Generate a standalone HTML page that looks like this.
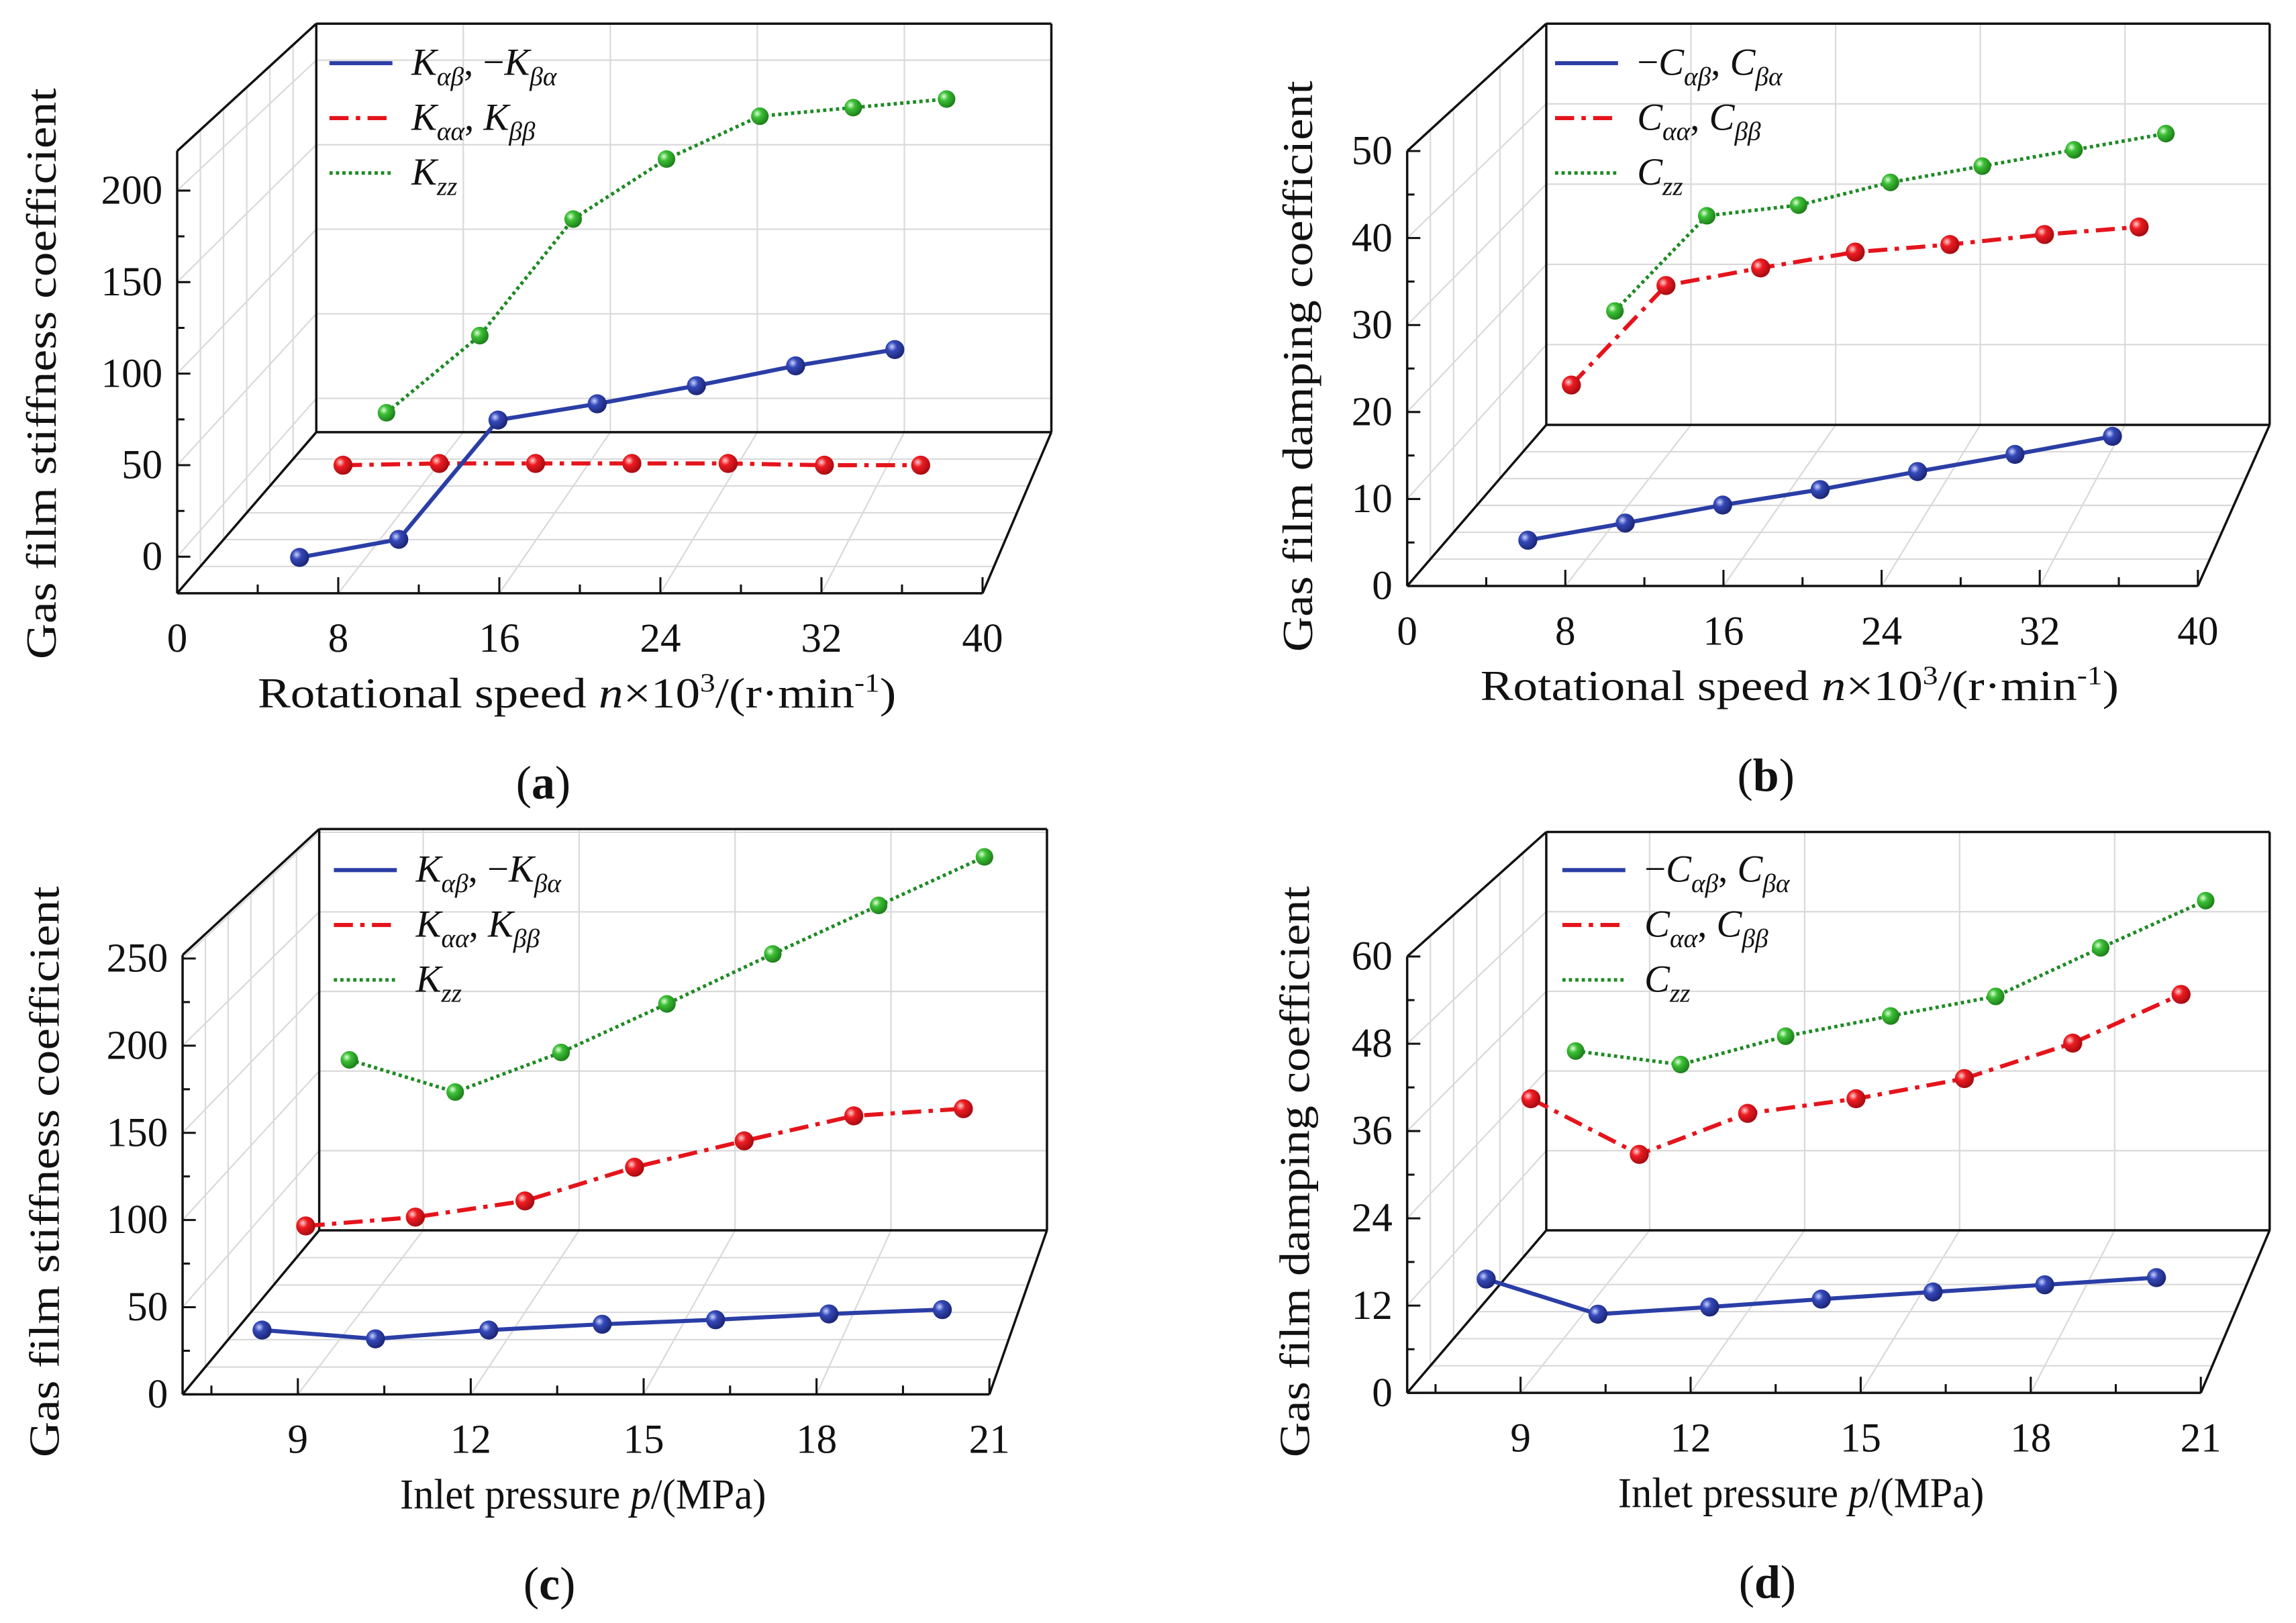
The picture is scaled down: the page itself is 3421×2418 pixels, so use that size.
<!DOCTYPE html>
<html><head><meta charset="utf-8"><style>
html,body{margin:0;padding:0;background:#fff;}
svg{display:block;}
text{font-family:"Liberation Serif","DejaVu Serif",serif;fill:#111;}
</style></head><body>
<svg id="fig" xmlns="http://www.w3.org/2000/svg" width="3421" height="2418" viewBox="0 0 1568 1108">
<defs>
<radialGradient id="gBlue" cx="0.35" cy="0.35" r="0.7"><stop offset="0" stop-color="#c9d2ff"/><stop offset="0.35" stop-color="#3448b8"/><stop offset="1" stop-color="#1a2370"/></radialGradient>
<radialGradient id="gRed" cx="0.35" cy="0.35" r="0.7"><stop offset="0" stop-color="#ffd0d0"/><stop offset="0.35" stop-color="#ee1c22"/><stop offset="1" stop-color="#a00a10"/></radialGradient>
<radialGradient id="gGreen" cx="0.35" cy="0.35" r="0.7"><stop offset="0" stop-color="#e0ffd8"/><stop offset="0.35" stop-color="#3cc036"/><stop offset="1" stop-color="#1b7a18"/></radialGradient>
</defs>
</svg>
<script>
// ---- data ----
const aX = [5, 10, 15, 20, 25, 30, 35];
const aBlue = [-15, -5, 61, 70, 80, 91, 100];
const aRed = [7, 8, 8, 8, 8, 7, 7];
const aGreen = [7, 52, 120, 155, 180, 185, 190];
const aYTicks = [0, 50, 100, 150, 200];
const aXTicks = [0, 8, 16, 24, 32, 40];

const bX = [5, 10, 15, 20, 25, 30, 35];
const bBlue = [2.2, 4.2, 6.3, 8.1, 10.2, 12.2, 14.3];
const bRed = [14.4, 26.3, 28.4, 30.3, 31.2, 32.4, 33.3];
const bGreen = [17.3, 29, 30.3, 33.1, 35.1, 37.1, 39.1];
const bYTicks = [0, 10, 20, 30, 40, 50];
const bXTicks = [0, 8, 16, 24, 32, 40];

const cX = [8, 10, 12, 14, 16, 18, 20];
const cBlue = [21.5, 16.4, 21.5, 24.9, 27.5, 30.9, 33.4];
const cRed = [51.8, 57.1, 66.8, 87, 102.8, 117.8, 122.1];
const cGreen = [122.3, 102.4, 126.9, 156.9, 187.8, 217.8, 247.8];
const cYTicks = [0, 50, 100, 150, 200, 250];
const cXTicks = [9, 12, 15, 18, 21];

const dX = [8, 10, 12, 14, 16, 18, 20];
const dBlue = [12.1, 7.2, 8.2, 9.3, 10.3, 11.3, 12.3];
const dRed = [30.6, 22.6, 28.5, 30.6, 33.5, 38.6, 45.6];
const dGreen = [30.6, 28.6, 32.8, 35.8, 38.7, 45.9, 52.9];
const dYTicks = [0, 12, 24, 36, 48, 60];
const dXTicks = [9, 12, 15, 18, 21];

const NS = "http://www.w3.org/2000/svg";
const svg = document.getElementById('fig');
function mk(tag, parent) { const e = document.createElementNS(NS, tag); parent.appendChild(e); return e; }
function line(parent, p, q, stroke, w) {
  const l = mk('line', parent);
  l.setAttribute('x1', p[0]); l.setAttribute('y1', p[1]); l.setAttribute('x2', q[0]); l.setAttribute('y2', q[1]);
  l.setAttribute('stroke', stroke); l.setAttribute('stroke-width', w);
  return l;
}
function txt(parent, x, y, s, size, anchor) {
  const t = mk('text', parent);
  t.setAttribute('x', x); t.setAttribute('y', y); t.setAttribute('font-size', size);
  t.setAttribute('text-anchor', anchor || 'middle'); t.textContent = s; return t;
}
function tsp(t, s, opts) {
  const e = mk('tspan', t); e.textContent = s;
  if (opts) for (const k in opts) e.setAttribute(k, opts[k]);
  return e;
}

const panels = [
  {id:'a', fx0:121, fw:550, fyb:405, fh:302, bx0:216, bw:502, byb:295, bh:279, xmin:0, xmax:40, ymin:-20, ymax:221.6,
   xs:aX, blue:aBlue, red:aRed, green:aGreen, yt:aYTicks, xt:aXTicks, yMinor:25, xMinor:4,
   ytitle:'Gas film stiffness coefficient', ytx:38, ytc:255, letter:'a', lx:225, ly:43, kind:'K', xkind:'n'},
  {id:'b', fx0:961, fw:540, fyb:400, fh:297, bx0:1056, bw:494, byb:290, bh:274, xmin:0, xmax:40, ymin:0, ymax:50,
   xs:bX, blue:bBlue, red:bRed, green:bGreen, yt:bYTicks, xt:bXTicks, yMinor:5, xMinor:4,
   ytitle:'Gas film damping coefficient', ytx:896, ytc:250, letter:'b', lx:1062, ly:43, kind:'C', xkind:'n'},
  {id:'c', fx0:124.7, fw:551, fyb:952, fh:300, bx0:218, bw:497, byb:840, bh:274, xmin:7, xmax:21, ymin:0, ymax:252,
   xs:cX, blue:cBlue, red:cRed, green:cGreen, yt:cYTicks, xt:cXTicks, yMinor:25, xMinor:1.5,
   ytitle:'Gas film stiffness coefficient', ytx:40, ytc:800, letter:'c', lx:228, ly:594, kind:'K', xkind:'p'},
  {id:'d', fx0:961, fw:542, fyb:951, fh:298, bx0:1056, bw:494, byb:840, bh:272, xmin:7, xmax:21, ymin:0, ymax:60,
   xs:dX, blue:dBlue, red:dRed, green:dGreen, yt:dYTicks, xt:dXTicks, yMinor:6, xMinor:1.5,
   ytitle:'Gas film damping coefficient', ytx:894, ytc:800, letter:'d', lx:1067, ly:594, kind:'C', xkind:'p'}
];

function P(pn, xv, yv, t) {
  const u = (xv - pn.xmin) / (pn.xmax - pn.xmin);
  const v = (yv - pn.ymin) / (pn.ymax - pn.ymin);
  const fx = pn.fx0 + u * pn.fw, fy = pn.fyb - v * pn.fh;
  const bx = pn.bx0 + u * pn.bw, by = pn.byb - v * pn.bh;
  return [fx + (bx - fx) * t, fy + (by - fy) * t];
}

const depths = {blue: 1/6, red: 1/2, green: 5/6};
const colors = {blue:'#2b3ea6', red:'#e5141c', green:'#1f8a25'};
const grads = {blue:'url(#gBlue)', red:'url(#gRed)', green:'url(#gGreen)'};
const dashes = {blue:'', red:'13,5,3,5', green:'2.2,2.2'};

panels.forEach(pn => {
  const g = mk('g', svg);
  
  

  const grid = mk('g', g);
  
  
  const gc = '#d9d9d9';
  pn.yt.forEach(v => {
    line(grid, P(pn, pn.xmin, v, 1), P(pn, pn.xmax, v, 1), gc, 1);
    line(grid, P(pn, pn.xmin, v, 0), P(pn, pn.xmin, v, 1), gc, 1);
  });
  pn.xt.forEach(x => {
    line(grid, P(pn, x, pn.ymin, 1), P(pn, x, pn.ymax, 1), gc, 1);
    line(grid, P(pn, x, pn.ymin, 0), P(pn, x, pn.ymin, 1), gc, 1);
  });
  for (let k = 1; k < 6; k++) {
    const t = k / 6;
    line(grid, P(pn, pn.xmin, pn.ymin, t), P(pn, pn.xmax, pn.ymin, t), gc, 1);
    line(grid, P(pn, pn.xmin, pn.ymin, t), P(pn, pn.xmin, pn.ymax, t), gc, 1);
  }

  const fr = mk('g', g);
  
  
  const k = '#111', w = 1.6;
  const F00 = P(pn, pn.xmin, pn.ymin, 0), F10 = P(pn, pn.xmax, pn.ymin, 0), F01 = P(pn, pn.xmin, pn.ymax, 0);
  const B00 = P(pn, pn.xmin, pn.ymin, 1), B10 = P(pn, pn.xmax, pn.ymin, 1), B01 = P(pn, pn.xmin, pn.ymax, 1), B11 = P(pn, pn.xmax, pn.ymax, 1);
  line(fr, F00, F10, k, w); line(fr, F00, F01, k, w); line(fr, F10, B10, k, w); line(fr, F00, B00, k, w);
  line(fr, F01, B01, k, w); line(fr, B00, B10, k, w); line(fr, B10, B11, k, w); line(fr, B11, B01, k, w); line(fr, B01, B00, k, w);

  const ya = mk('g', g);
  
  
  for (let v = pn.yt[0] - pn.yMinor * Math.floor((pn.yt[0] - pn.ymin) / pn.yMinor); v <= pn.ymax + 0.001; v += pn.yMinor) {
    const p = P(pn, pn.xmin, v, 0);
    const major = pn.yt.some(m => Math.abs(m - v) < 1e-6);
    line(ya, p, [p[0] + (major ? 9 : 5), p[1]], k, 1.4);
  }
  pn.yt.forEach(v => {
    const p = P(pn, pn.xmin, v, 0);
    const t = txt(ya, p[0] - 10, p[1] + 9, String(v), 28, 'end');
    
    
  });
  const xa = mk('g', g);
  
  
  for (let x = pn.xt[0] - pn.xMinor * Math.floor((pn.xt[0] - pn.xmin) / pn.xMinor); x <= pn.xmax + 0.001; x += pn.xMinor) {
    const p = P(pn, x, pn.ymin, 0);
    const major = pn.xt.some(m => Math.abs(m - x) < 1e-6);
    line(xa, p, [p[0], p[1] - (major ? 11 : 6)], k, 1.4);
  }
  pn.xt.forEach(x => {
    const p = P(pn, x, pn.ymin, 0);
    const t = txt(xa, p[0], p[1] + 40, String(x), 28);
    
    
  });

  ['green', 'red', 'blue'].forEach(s => {
    const sg = mk('g', g);
    
    
    const vals = pn[s];
    const pts = pn.xs.map((x, i) => P(pn, x, vals[i], depths[s]));
    const pl = mk('polyline', sg);
    pl.setAttribute('points', pts.map(p => p.join(',')).join(' '));
    pl.setAttribute('fill', 'none'); pl.setAttribute('stroke', colors[s]);
    pl.setAttribute('stroke-width', s === 'green' ? 2.4 : 2.8);
    if (dashes[s]) pl.setAttribute('stroke-dasharray', dashes[s]);
    
    
    pts.forEach(p => {
      const c = mk('circle', sg);
      c.setAttribute('cx', p[0]); c.setAttribute('cy', p[1]);
      c.setAttribute('r', s === 'green' ? 6 : 6.5);
      c.setAttribute('fill', grads[s]);
      
      
    });
  });

  const lg = mk('g', g);
  
  
  const K = pn.kind;
  const labels = pn.kind === 'K'
    ? [[['', 'αβ'], [', −', ''], ['', 'βα']], [['', 'αα'], [', ', ''], ['', 'ββ']], [['', 'zz']]]
    : [[['−', 'αβ'], [', ', ''], ['', 'βα']], [['', 'αα'], [', ', ''], ['', 'ββ']], [['', 'zz']]];
  ['blue', 'red', 'green'].forEach((s, i) => {
    const y = pn.ly + i * 37.5;
    const ll = line(lg, [pn.lx, y], [pn.lx + 43, y], colors[s], s === 'green' ? 2.4 : 2.8);
    if (dashes[s]) ll.setAttribute('stroke-dasharray', dashes[s]);
    
    
    const t = txt(lg, pn.lx + 56, y + 8, '', 26, 'start');
    
    
    const parts = labels[i];
    tsp(t, parts[0][0]);
    tsp(t, K, {'font-style': 'italic'});
    tsp(t, parts[0][1], {'font-style': 'italic', 'font-size': 18, dy: 7});
    if (parts.length > 1) {
      tsp(t, parts[1][0], {dy: -7});
      tsp(t, K, {'font-style': 'italic'});
      tsp(t, parts[2][1], {'font-style': 'italic', 'font-size': 18, dy: 7});
    }
  });

  const yt = txt(g, 0, 0, pn.ytitle, 29);
  yt.setAttribute('transform', 'translate(' + pn.ytx + ',' + pn.ytc + ') rotate(-90)');
  yt.setAttribute('textLength', 390);
  yt.setAttribute('lengthAdjust', 'spacingAndGlyphs');
  
  

  const cx = pn.fx0 + pn.fw / 2 + 0;
  const xt = txt(g, cx - 2, pn.fyb + 78, '', 29);
  
  
  if (pn.xkind === 'n') {
    xt.setAttribute('textLength', 436);
    xt.setAttribute('lengthAdjust', 'spacingAndGlyphs');
    tsp(xt, 'Rotational speed ');
    tsp(xt, 'n', {'font-style': 'italic'});
    tsp(xt, '×10');
    tsp(xt, '3', {'font-size': 18, dy: -11});
    tsp(xt, '/(r·min', {dy: 11});
    tsp(xt, '-1', {'font-size': 18, dy: -11});
    tsp(xt, ')', {dy: 11});
  } else {
    xt.setAttribute('textLength', 250);
    xt.setAttribute('lengthAdjust', 'spacingAndGlyphs');
    tsp(xt, 'Inlet pressure ');
    tsp(xt, 'p', {'font-style': 'italic'});
    tsp(xt, '/(MPa)');
  }

  const pl = txt(g, cx - 25, pn.fyb + 140, '', 32);
  
  
  tsp(pl, '(');
  tsp(pl, pn.letter, {'font-weight': 'bold'});
  tsp(pl, ')');
});
</script>
</body></html>
